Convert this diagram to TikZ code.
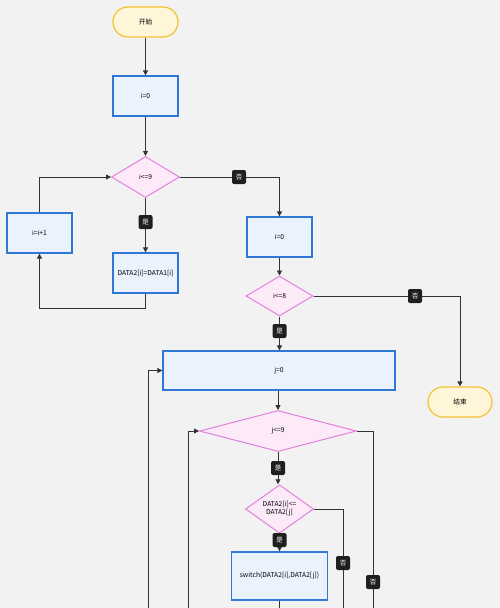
\documentclass[tikz,border=0pt]{standalone}
\usepackage{fontspec}
\setmainfont{Noto Sans CJK SC}
\usetikzlibrary{shapes.geometric,arrows.meta}
\definecolor{bgc}{HTML}{F2F2F2}
\definecolor{boxblue}{HTML}{2F78D6}
\definecolor{boxfill}{HTML}{EAF2FE}
\definecolor{pinkline}{HTML}{E47FDD}
\definecolor{pinkfill}{HTML}{FCEAF9}
\definecolor{goldline}{HTML}{F2C230}
\definecolor{goldfill}{HTML}{FFF5D8}
\definecolor{linec}{HTML}{333333}
\tikzset{
  proc/.style={draw=boxblue, fill=boxfill, line width=1.3pt, minimum width=65pt, minimum height=40pt, inner sep=1pt, align=center},
  dec/.style={diamond, draw=pinkline, fill=pinkfill, line width=1pt, inner sep=0pt, align=center},
  term/.style={rectangle, rounded corners=15pt, draw=goldline, fill=goldfill, line width=1.2pt, minimum width=65pt, minimum height=30pt},
  lab/.style={fill=black!88, text=white, rounded corners=2pt, inner sep=0pt, minimum size=14pt, font=\fontsize{6.5}{7}\selectfont},
  conn/.style={draw=linec, line width=0.9pt, -{Triangle[length=5pt,width=5pt]}},
  plain/.style={draw=linec, line width=0.9pt}
}
\begin{document}
\begin{tikzpicture}[x=1pt,y=-1pt,font=\fontsize{6.7}{8}\selectfont]
\fill[bgc] (0,0) rectangle (500,608);
\useasboundingbox (0,0) rectangle (500,608);
\clip (0,0) rectangle (500,608);
% nodes
\node[term] (start) at (145.5,22) {开始};
\node[proc] (a1) at (145.5,96) {i=0};
\node[dec, minimum width=68pt, minimum height=41pt] (d1) at (145.5,177) {i<=9};
\node[proc] (inc) at (39.5,233) {i=i+1};
\node[proc] (b1) at (145.5,273) {DATA2[i]=DATA1[i]};
\node[proc] (a2) at (279.5,237) {i=0};
\node[dec, minimum width=67pt, minimum height=40pt] (d2) at (279.5,296) {i<=8};
\node[term, minimum width=64pt] (endn) at (460,402) {结束};
\node[proc, minimum width=232pt, minimum height=39pt] (j0) at (279,370.5) {j=0};
\node[dec, minimum width=157pt, minimum height=41pt] (d3) at (278,431) {j<=9};
\node[dec, minimum width=68pt, minimum height=42pt] (d4) at (279.5,509) {DATA2[i]<=\\DATA2[j]};
\node[proc, minimum width=96pt, minimum height=48pt] (sw) at (279.5,576) {switch(DATA2[i],DATA2[j])};
% free ends below the frame
\coordinate (e1) at (148,615);
\coordinate (e2) at (188,615);
\coordinate (e3) at (279.5,615);
\coordinate (e4) at (343,615);
\coordinate (e5) at (373,615);
% connectors
\draw[conn] (start) -- (a1);
\draw[conn] (a1) -- (d1);
\draw[conn] (d1) -- (b1);
\draw[conn] (b1.south) -- (b1.south |- 0,308) -| (inc.south);
\draw[conn] (inc.north) |- (d1.west);
\draw[conn] (d1.east) -| (a2.north);
\draw[conn] (a2) -- (d2);
\draw[conn] (d2.east) -| (endn.north);
\draw[conn] (d2) -- (j0.north -| d2.south);
\draw[conn] (j0.south -| d3.north) -- (d3.north);
\draw[conn] (d3) -- (d4.north -| d3.south);
\draw[conn] (d4) -- (sw);
\draw[plain] (sw.south) -- (e3);
\draw[plain] (d4.east) -| (e4);
\draw[plain] (d3.east) -| (e5);
\draw[conn] (e2) |- (d3.west);
\draw[conn] (e1) |- (j0.west);
% labels
\node[lab] (l1) at (145.5,222) {是};
\node[lab] (l2) at (239,177) {否};
\node[lab] (l3) at (415,296) {否};
\node[lab] (l4) at (279.5,331) {是};
\node[lab] (l5) at (278,468) {是};
\node[lab] (l6) at (279.5,540) {是};
\node[lab] (l7) at (343,563) {否};
\node[lab] (l8) at (373,582) {否};
\end{tikzpicture}
\end{document}
